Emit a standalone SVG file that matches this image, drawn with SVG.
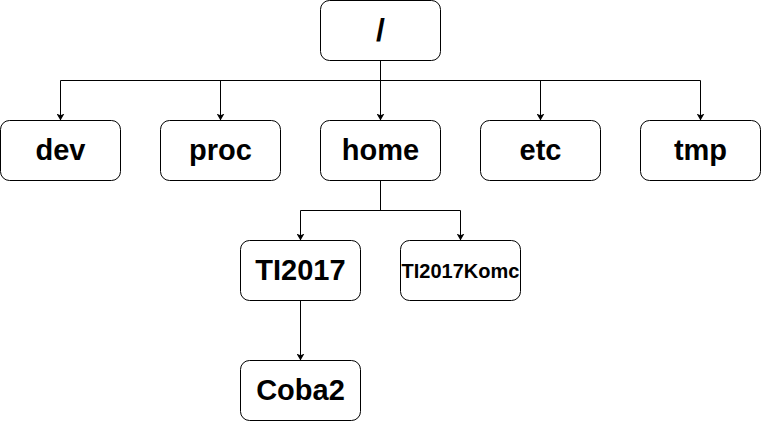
<svg xmlns="http://www.w3.org/2000/svg" width="761" height="421" viewBox="0 0 761 421">
<style>
.box{fill:#fff;stroke:#000;stroke-width:1}
.t{font-family:"Liberation Sans",Arial,sans-serif;font-weight:bold;text-anchor:middle;fill:#000}
.big{font-size:29px}
.small{font-size:20px}
.edge{fill:none;stroke:#000;stroke-width:1}
</style>
<defs>
<marker id="arr" markerUnits="userSpaceOnUse" markerWidth="7" markerHeight="8" viewBox="0 0 7 8" refX="7" refY="4" orient="auto">
<path d="M0,0 L7,4 L0,8 L1.8,4 Z" fill="#000"/>
</marker>
</defs>
<rect width="761" height="421" fill="#fff"/>
<g id="connectors">
<path class="edge" d="M380.5,60.5 V80.5"/>
<path class="edge" d="M60.5,80.5 H700.5"/>
<path class="edge" d="M60.5,80.5 V120.5" marker-end="url(#arr)"/>
<path class="edge" d="M220.5,80.5 V120.5" marker-end="url(#arr)"/>
<path class="edge" d="M380.5,80.5 V120.5" marker-end="url(#arr)"/>
<path class="edge" d="M540.5,80.5 V120.5" marker-end="url(#arr)"/>
<path class="edge" d="M700.5,80.5 V120.5" marker-end="url(#arr)"/>
<path class="edge" d="M380.5,180.5 V210.5"/>
<path class="edge" d="M300.5,210.5 H460.5"/>
<path class="edge" d="M300.5,210.5 V240.5" marker-end="url(#arr)"/>
<path class="edge" d="M460.5,210.5 V240.5" marker-end="url(#arr)"/>
<path class="edge" d="M300.5,300.5 V360.5" marker-end="url(#arr)"/>
</g>
<g id="root"><rect class="box" x="320.5" y="0.5" width="120" height="60" rx="9"/><text class="t" x="380.5" y="41" font-size="32px">/</text></g>
<g id="dev"><rect class="box" x="0.5" y="120.5" width="120" height="60" rx="9"/><text class="t big" x="60.5" y="160">dev</text></g>
<g id="proc"><rect class="box" x="160.5" y="120.5" width="120" height="60" rx="9"/><text class="t big" x="220.5" y="160">proc</text></g>
<g id="home"><rect class="box" x="320.5" y="120.5" width="120" height="60" rx="9"/><text class="t big" x="380.5" y="160">home</text></g>
<g id="etc"><rect class="box" x="480.5" y="120.5" width="120" height="60" rx="9"/><text class="t big" x="540.5" y="160">etc</text></g>
<g id="tmp"><rect class="box" x="640.5" y="120.5" width="120" height="60" rx="9"/><text class="t big" x="700.5" y="160">tmp</text></g>
<g id="ti2017"><rect class="box" x="240.5" y="240.5" width="120" height="60" rx="9"/><text class="t big" x="300.5" y="280">TI2017</text></g>
<g id="ti2017komc"><rect class="box" x="400.5" y="240.5" width="120" height="60" rx="9"/><text class="t small" x="460.5" y="277.5">TI2017Komc</text></g>
<g id="coba2"><rect class="box" x="240.5" y="360.5" width="120" height="60" rx="9"/><text class="t big" x="300.5" y="400">Coba2</text></g>
</svg>
